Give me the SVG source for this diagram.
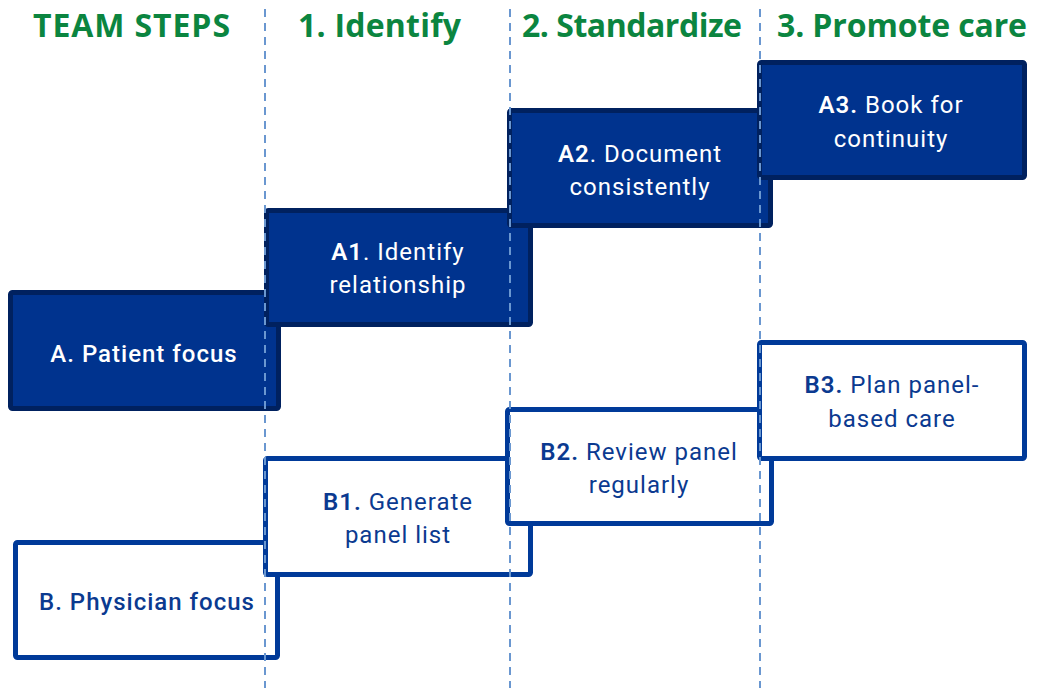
<svg xmlns="http://www.w3.org/2000/svg" width="1037" height="688" viewBox="0 0 1037 688">
  <style>
    .head { font-family: "Open Sans", "Liberation Sans", sans-serif; font-weight: 700; font-size: 32px; fill: #0b8540; }
    .boxA { fill: #00338e; stroke: #00215f; stroke-width: 5; }
    .boxB { fill: #ffffff; stroke: #003a99; stroke-width: 5; }
    .lbl { font-family: Roboto, "Liberation Sans", sans-serif; font-size: 24px; letter-spacing: 1px; text-anchor: middle; }
    .lblA { fill: #ffffff; }
    .lblB { fill: #0b3a90; }
    .pre { font-weight: 600; }
    .main { font-weight: 500; }
    .guide { stroke: #6a97d0; stroke-width: 2; stroke-dasharray: 8 6; fill: none; }
  </style>

  <!-- column headings -->
  <g id="headings">
    <text class="head" x="33" y="37" textLength="197">TEAM STEPS</text>
    <text class="head" x="298" y="37" textLength="163">1. Identify</text>
    <text class="head" x="522" y="37" textLength="220">2. Standardize</text>
    <text class="head" x="777" y="37" textLength="250">3. Promote care</text>
  </g>

  <!-- row A: patient focus (filled steps) -->
  <g id="nodeA">
    <rect class="boxA" x="10.5" y="292.5" width="268" height="116" rx="2"/>
    <text class="lbl lblA main" x="144" y="362">A. Patient focus</text>
  </g>
  <g id="nodeA1">
    <rect class="boxA" x="266.5" y="210.5" width="264" height="114" rx="2"/>
    <text class="lbl lblA" x="398" y="260"><tspan class="pre">A1</tspan>. Identify</text>
    <text class="lbl lblA" x="398" y="293">relationship</text>
  </g>
  <g id="nodeA2">
    <rect class="boxA" x="509.5" y="110.5" width="261" height="115" rx="2"/>
    <text class="lbl lblA" x="640" y="162"><tspan class="pre">A2</tspan>. Document</text>
    <text class="lbl lblA" x="640" y="195">consistently</text>
  </g>
  <g id="nodeA3">
    <rect class="boxA" x="759.5" y="62.5" width="265" height="115" rx="2"/>
    <text class="lbl lblA" x="891" y="113"><tspan class="pre">A3.</tspan> Book for</text>
    <text class="lbl lblA" x="891" y="147">continuity</text>
  </g>

  <!-- row B: physician focus (outlined steps) -->
  <g id="nodeB">
    <rect class="boxB" x="15.5" y="542.5" width="262" height="115" rx="2"/>
    <text class="lbl lblB main" x="147" y="610">B. Physician focus</text>
  </g>
  <g id="nodeB1">
    <rect class="boxB" x="265.5" y="458.5" width="265" height="116" rx="2"/>
    <text class="lbl lblB" x="398" y="510"><tspan class="pre">B1.</tspan> Generate</text>
    <text class="lbl lblB" x="398" y="543">panel list</text>
  </g>
  <g id="nodeB2">
    <rect class="boxB" x="507.5" y="409.5" width="264" height="114" rx="2"/>
    <text class="lbl lblB" x="639" y="460"><tspan class="pre">B2.</tspan> Review panel</text>
    <text class="lbl lblB" x="639" y="493">regularly</text>
  </g>
  <g id="nodeB3">
    <rect class="boxB" x="759.5" y="342.5" width="265" height="116" rx="2"/>
    <text class="lbl lblB" x="892" y="393"><tspan class="pre">B3.</tspan> Plan panel-</text>
    <text class="lbl lblB" x="892" y="427">based care</text>
  </g>

  <!-- column separators -->
  <g id="connectors">
    <line class="guide" x1="265" y1="9" x2="265" y2="688"/>
    <line class="guide" x1="510" y1="9" x2="510" y2="688"/>
    <line class="guide" x1="760" y1="9" x2="760" y2="688"/>
  </g>
</svg>
